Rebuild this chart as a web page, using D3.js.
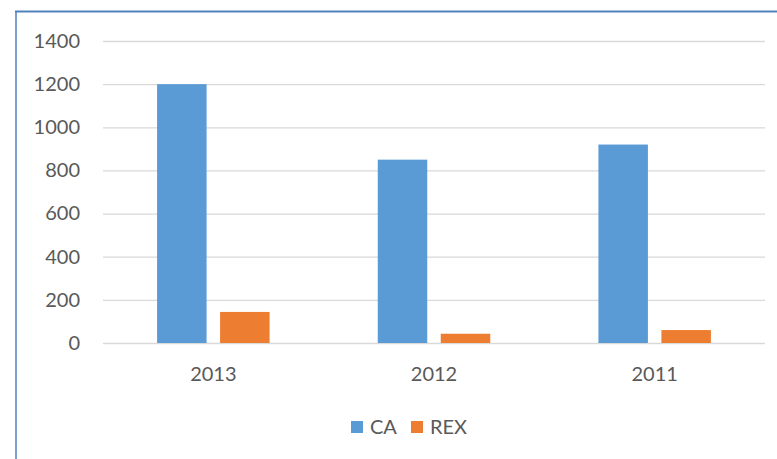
<!DOCTYPE html>
<html><head><meta charset="utf-8">
<script src="https://cdn.jsdelivr.net/npm/d3@7"></script>
<style>body{margin:0;background:#fff;} svg{display:block;}</style>
</head><body>
<script>
const categories = ["2013", "2012", "2011"];
const seriesNames = ["CA", "REX"];
const caValues = [1200, 850, 920];
const rexValues = [144, 43, 60];
const yTicks = [0, 200, 400, 600, 800, 1000, 1200, 1400];
const colors = ["#5b9bd5", "#ed7d31"];

const W = 777, H = 459;
const svg = d3.select("body").append("svg").attr("width", W).attr("height", H);
const font = "Lato, 'Open Sans', sans-serif";
const textColor = "#595959";
const fs = 20;

// frame
svg.append("line").attr("x1", 15).attr("x2", W).attr("y1", 11.5).attr("y2", 11.5)
  .attr("stroke", "#4f81bd").attr("stroke-width", 2);
svg.append("line").attr("x1", 16).attr("x2", 16).attr("y1", 11).attr("y2", H)
  .attr("stroke", "#4f81bd").attr("stroke-width", 1.5);

const x0 = d3.scaleBand().domain(categories).range([103, 765]);
const y = d3.scaleLinear().domain([0, 1400]).range([343, 41]);

// gridlines
const yAxis = d3.axisLeft(y).tickValues(yTicks).tickFormat(d3.format("d"))
  .tickSize(-(765 - 103)).tickPadding(23);
const gy = svg.append("g").attr("transform", "translate(103,0)").call(yAxis);
gy.select(".domain").remove();
gy.selectAll(".tick line").attr("stroke", "#d9d9d9").attr("stroke-width", 1.3);
gy.selectAll(".tick text").attr("fill", textColor).attr("font-family", font).attr("font-size", fs);

const barW = 49.5, gap = 13.5;
const data = categories.map((c, i) => ({cat: c, vals: [caValues[i], rexValues[i]]}));
data.forEach(d => {
  const cx = x0(d.cat) + x0.bandwidth() / 2;
  d.vals.forEach((v, j) => {
    const left = cx - (barW * 2 + gap) / 2 + j * (barW + gap);
    svg.append("rect").attr("x", left).attr("width", barW)
      .attr("y", y(v)).attr("height", y(0) - y(v))
      .attr("fill", colors[j]);
  });
});

// x axis labels
const xAxis = d3.axisBottom(x0).tickSize(0).tickPadding(24);
const gx = svg.append("g").attr("transform", "translate(0,343)").call(xAxis);
gx.select(".domain").remove();
gx.selectAll(".tick text").attr("fill", textColor).attr("font-family", font).attr("font-size", fs);

// legend
const legendX = [351, 411];
seriesNames.forEach((s, i) => {
  svg.append("rect").attr("x", legendX[i]).attr("y", 421).attr("width", 12).attr("height", 12).attr("fill", colors[i]);
  svg.append("text").attr("x", legendX[i] + 19).attr("y", 434).text(s)
    .attr("fill", textColor).attr("font-family", font).attr("font-size", fs);
});
</script>
</body></html>
